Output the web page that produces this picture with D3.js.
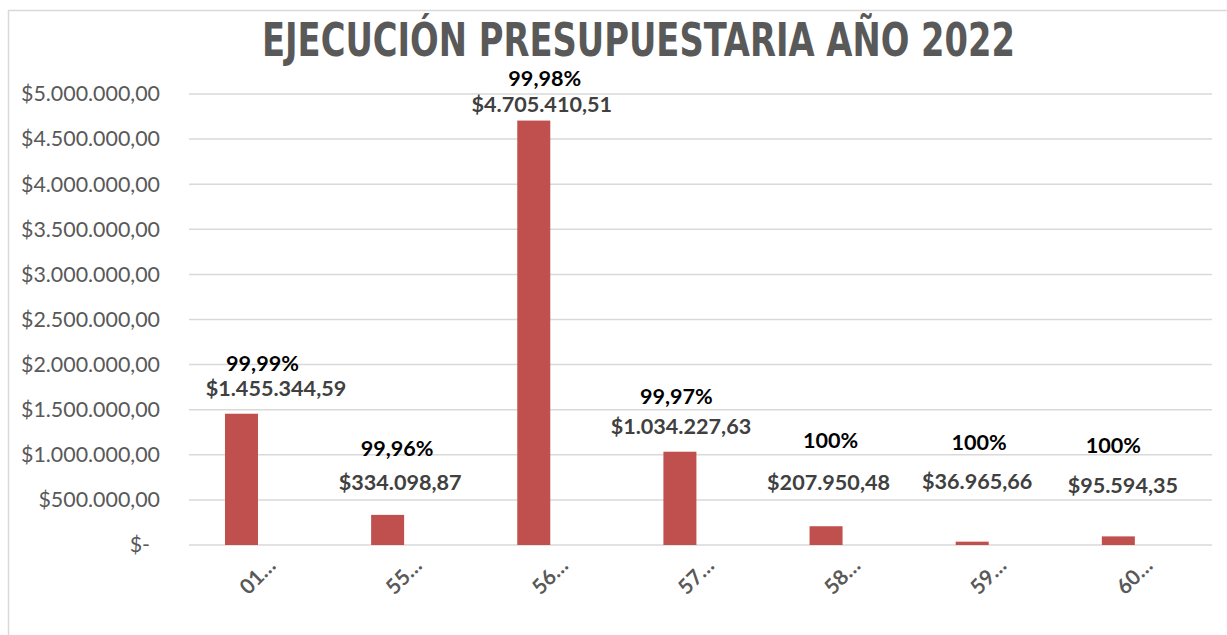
<!DOCTYPE html>
<html><head><meta charset="utf-8">
<script src="https://cdn.jsdelivr.net/npm/d3@7"></script>
<style>
html,body{margin:0;padding:0;background:#fff;}
svg{display:block;}
</style></head>
<body>
<script>
// ---- data ----
const categories = ["01…","55…","56…","57…","58…","59…","60…"];
const amounts = [1455344.59, 334098.87, 4705410.51, 1034227.63, 207950.48, 36965.66, 95594.35];
const amountLabels = ["$1.455.344,59","$334.098,87","$4.705.410,51","$1.034.227,63","$207.950,48","$36.965,66","$95.594,35"];
const percentLabels = ["99,99%","99,96%","99,98%","99,97%","100%","100%","100%"];
const yTicks = [0,500000,1000000,1500000,2000000,2500000,3000000,3500000,4000000,4500000,5000000];
const title = "EJECUCIÓN PRESUPUESTARIA AÑO 2022";

// ---- layout (manually placed labels, px above bar top / px shift from bar centre) ----
const pctLift = [50.7, 67, 42, 55, 86, 99, 91.4];
const amtLift = [25.7, 33, 16, 25, 44, 60, 51];
const pctShift = [21, 9.5, 11, -3.5, 4.5, 7, -5];
const amtShift = [34.5, 12.5, 8, 1, 2.5, 5, 4.5];

const W = 1227, H = 635;
const svg = d3.select("body").append("svg").attr("width", W).attr("height", H);

// chart border
svg.append("rect").attr("x", 8.5).attr("y", 10.5).attr("width", 1240).attr("height", 640)
  .attr("fill", "#fff").attr("stroke", "#d9d9d9").attr("stroke-width", 1.5);

const x = d3.scaleBand().domain(categories).range([189, 1212]).padding(0);
const xSub = d3.scaleBand().domain(["monto","porcentaje"]).range([0, x.bandwidth()])
  .paddingInner(0).paddingOuter(1.214).align(0.449);
const y = d3.scaleLinear().domain([0, 5000000]).range([545, 94]);

// gridlines
svg.append("g").selectAll("line").data(yTicks).join("line")
  .attr("x1", 189).attr("x2", 1212)
  .attr("y1", d => y(d)).attr("y2", d => y(d))
  .attr("stroke", "#d9d9d9").attr("stroke-width", 1.5);

// y axis labels
const fmt = v => v === 0 ? "$-" :
  "$" + d3.format(",.2f")(v).replace(/,/g, "#").replace(/\./g, ",").replace(/#/g, ".");
const yAxis = d3.axisLeft(y).tickValues(yTicks).tickFormat(fmt).tickSize(0).tickPadding(0);
const gy = svg.append("g").attr("transform", "translate(160,0)").call(yAxis);
gy.select(".domain").remove();
gy.selectAll("text").attr("font-family", "Lato").attr("font-size", 21.4).attr("fill", "#595959")
  .attr("dx", d => d === 0 ? -10 : 0);

// bars
const bx = c => x(c) + xSub("monto");
svg.append("g").selectAll("rect").data(categories).join("rect")
  .attr("x", c => bx(c))
  .attr("width", xSub.bandwidth())
  .attr("y", (c, i) => y(amounts[i]))
  .attr("height", (c, i) => y(0) - y(amounts[i]))
  .attr("fill", "#c0504d");

const cx = c => bx(c) + xSub.bandwidth() / 2;

// labels
const gl = svg.append("g").attr("font-family", "Lato").attr("font-weight", "bold")
  .attr("font-size", 21.6).attr("text-anchor", "middle");
gl.selectAll("text.pct").data(categories).join("text").attr("class", "pct")
  .attr("x", (c, i) => cx(c) + pctShift[i])
  .attr("y", (c, i) => y(amounts[i]) - pctLift[i])
  .attr("dy", "0.36em").attr("fill", "#000").text((c, i) => percentLabels[i]);
gl.selectAll("text.amt").data(categories).join("text").attr("class", "amt")
  .attr("x", (c, i) => cx(c) + amtShift[i])
  .attr("y", (c, i) => y(amounts[i]) - amtLift[i])
  .attr("dy", "0.36em").attr("fill", "#404040").text((c, i) => amountLabels[i]);

// x axis labels
const xAxis = d3.axisBottom(x).tickSize(0).tickPadding(0);
const gx = svg.append("g").attr("transform", "translate(0,545)").call(xAxis);
gx.select(".domain").remove();
gx.selectAll("text")
  .attr("font-family", "Lato").attr("font-weight", "bold").attr("font-size", 21)
  .attr("fill", "#595959").attr("text-anchor", "end").attr("dy", null).attr("y", null)
  .attr("transform", "translate(15,22) rotate(-45)");

// title
svg.append("text").attr("x", 638.5).attr("y", 56)
  .attr("text-anchor", "middle")
  .attr("font-family", "Liberation Sans Narrow, DejaVu Sans Condensed, sans-serif")
  .attr("font-weight", "bold").attr("font-size", 46)
  .attr("textLength", 753).attr("lengthAdjust", "spacingAndGlyphs")
  .attr("fill", "#595959").text(title);
</script>
</body></html>
